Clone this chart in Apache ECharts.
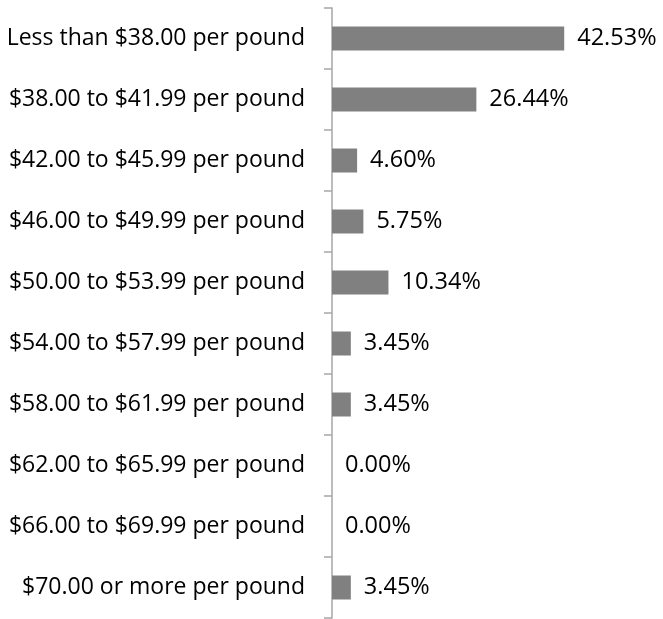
<!DOCTYPE html>
<html>
<head>
<meta charset="utf-8">
<script src="https://cdn.jsdelivr.net/npm/echarts@6/dist/echarts.min.js"></script>
<style>
  html, body { margin: 0; padding: 0; background: #fff; }
  #chart { width: 663px; height: 619px; }
</style>
</head>
<body>
<div id="chart"></div>
<script>
const categories = [
  'Less than $38.00 per pound',
  '$38.00 to $41.99 per pound',
  '$42.00 to $45.99 per pound',
  '$46.00 to $49.99 per pound',
  '$50.00 to $53.99 per pound',
  '$54.00 to $57.99 per pound',
  '$58.00 to $61.99 per pound',
  '$62.00 to $65.99 per pound',
  '$66.00 to $69.99 per pound',
  '$70.00 or more per pound'
];
const shares = [42.53, 26.44, 4.60, 5.75, 10.34, 3.45, 3.45, 0.00, 0.00, 3.45];

const myChart = echarts.init(document.getElementById('chart'));

const option = {
  animation: false,
  grid: { left: 332, top: 8, width: 273, height: 610 },
  xAxis: {
    type: 'value',
    min: 0,
    max: 50,
    show: false
  },
  yAxis: {
    type: 'category',
    data: categories,
    inverse: true,
    axisLine: { lineStyle: { color: '#a6a6a6', width: 1.5 } },
    axisTick: { show: true, length: 8, lineStyle: { color: '#a6a6a6', width: 1.5 } },
    axisLabel: {
      color: '#000',
      fontFamily: 'Open Sans',
      fontSize: 23,
      margin: 27
    }
  },
  series: [{
    type: 'bar',
    data: shares,
    barWidth: 24,
    itemStyle: { color: '#808080' },
    label: {
      show: true,
      position: 'right',
      distance: 13,
      color: '#000',
      fontFamily: 'Open Sans',
      fontSize: 23.5,
      formatter: p => p.value.toFixed(2) + '%'
    }
  }]
};

myChart.setOption(option);
</script>
</body>
</html>
